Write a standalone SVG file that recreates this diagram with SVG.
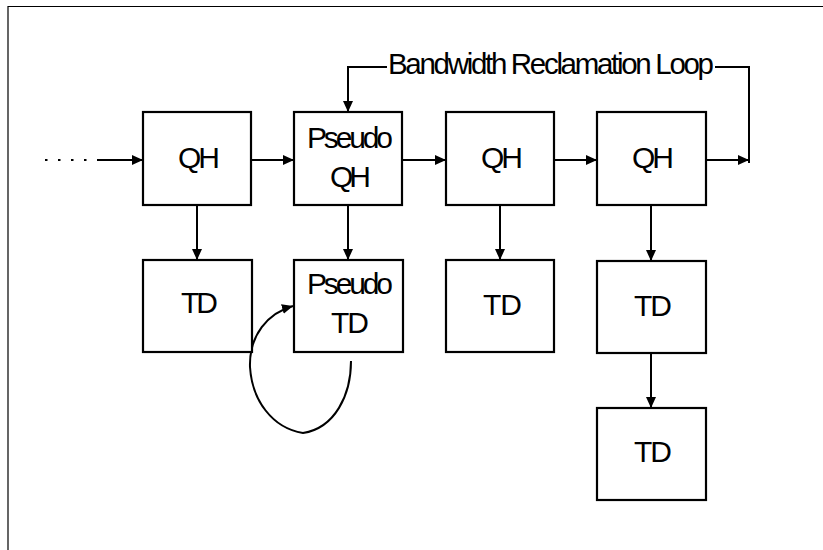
<svg xmlns="http://www.w3.org/2000/svg" width="823" height="550" viewBox="0 0 823 550">
<defs>
<marker id="ah" markerUnits="userSpaceOnUse" markerWidth="12" markerHeight="10" refX="11" refY="5" orient="auto">
<path d="M0,0 L11,5 L0,10 Z" fill="#000"/>
</marker>
<style>
.box{fill:#fff;stroke:#000;stroke-width:2.2}
.lbl{font-family:"Liberation Sans",Arial,sans-serif;font-size:30px;fill:#000}
.c{fill:none;stroke:#000;stroke-width:2}
</style>
</defs>
<rect width="823" height="550" fill="#fff"/>
<g id="frame"><path d="M8,550 L8,6.5 L823,6.5" fill="none" stroke="#000" stroke-width="1.2"/></g>
<g id="connectors">
<path class="c" d="M45,160 L100,160" stroke-dasharray="2.5 10.5" stroke-width="2.5"/>
<path class="c" d="M98,160 L143,160" marker-end="url(#ah)"/>
<path class="c" d="M251,160 L294,160" marker-end="url(#ah)"/>
<path class="c" d="M402,160 L446,160" marker-end="url(#ah)"/>
<path class="c" d="M554,160 L597,160" marker-end="url(#ah)"/>
<path class="c" d="M706,160 L749,160" marker-end="url(#ah)"/>
<path class="c" d="M715,67 L749,67 L749,163"/>
<path class="c" d="M387,67 L348,67 L348,112" marker-end="url(#ah)"/>
<path class="c" d="M197,205 L197,260" marker-end="url(#ah)"/>
<path class="c" d="M348,205 L348,260" marker-end="url(#ah)"/>
<path class="c" d="M500,205 L500,260" marker-end="url(#ah)"/>
<path class="c" d="M651,205 L651,261" marker-end="url(#ah)"/>
<path class="c" d="M651,353 L651,408" marker-end="url(#ah)"/>
<path class="c" d="M351,361 C351,395 335,428 303,433 C272,428 252,400 250,367 C249,335 268,313 293,306" marker-end="url(#ah)"/>
<text class="lbl" x="388" y="74" textLength="326" lengthAdjust="spacing" style="font-size:29.5px">Bandwidth Reclamation Loop</text>
</g>
<g id="qh1"><rect class="box" x="143" y="112" width="108" height="93"/><text class="lbl" x="178" y="168" textLength="42" lengthAdjust="spacing">QH</text></g>
<g id="pqh"><rect class="box" x="294" y="112" width="108" height="93"/><text class="lbl" x="307" y="148" textLength="86" lengthAdjust="spacing">Pseudo</text><text class="lbl" x="330" y="187" textLength="41" lengthAdjust="spacing">QH</text></g>
<g id="qh3"><rect class="box" x="446" y="112" width="108" height="93"/><text class="lbl" x="481" y="168" textLength="42" lengthAdjust="spacing">QH</text></g>
<g id="qh4"><rect class="box" x="597" y="112" width="109" height="93"/><text class="lbl" x="632" y="168" textLength="42" lengthAdjust="spacing">QH</text></g>
<g id="td1"><rect class="box" x="143" y="260" width="109" height="92"/><text class="lbl" x="181" y="313" textLength="37" lengthAdjust="spacing">TD</text></g>
<g id="ptd"><rect class="box" x="294" y="260" width="109" height="92"/><text class="lbl" x="307" y="294" textLength="86" lengthAdjust="spacing">Pseudo</text><text class="lbl" x="331" y="333" textLength="38" lengthAdjust="spacing">TD</text></g>
<g id="td3"><rect class="box" x="446" y="260" width="108" height="92"/><text class="lbl" x="483" y="315" textLength="39" lengthAdjust="spacing">TD</text></g>
<g id="td4"><rect class="box" x="597" y="261" width="109" height="92"/><text class="lbl" x="634" y="316" textLength="38" lengthAdjust="spacing">TD</text></g>
<g id="td5"><rect class="box" x="597" y="408" width="109" height="92"/><text class="lbl" x="634" y="462" textLength="38" lengthAdjust="spacing">TD</text></g>
</svg>
